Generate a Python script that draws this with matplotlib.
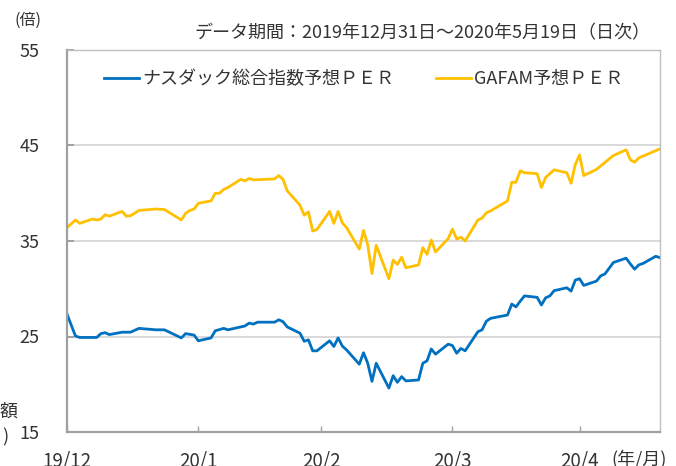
import matplotlib
matplotlib.use("Agg")
import matplotlib.pyplot as plt
import pandas as pd

plt.rcParams["font.family"] = ["Noto Sans CJK JP", "DejaVu Sans"]

BLUE = "#0070C0"
YELLOW = "#FFC000"

# ナスダック総合指数予想PER (vertices)
nasdaq_dates = [
    "2019-12-31", "2020-01-02", "2020-01-03", "2020-01-07", "2020-01-08", "2020-01-09",
    "2020-01-10", "2020-01-13", "2020-01-15", "2020-01-17", "2020-01-21", "2020-01-23",
    "2020-01-27", "2020-01-28", "2020-01-30", "2020-01-31", "2020-02-03", "2020-02-04",
    "2020-02-06", "2020-02-07", "2020-02-10", "2020-02-11", "2020-02-12", "2020-02-13",
    "2020-02-14", "2020-02-18", "2020-02-19", "2020-02-20", "2020-02-21", "2020-02-24",
    "2020-02-25", "2020-02-26", "2020-02-27", "2020-02-28", "2020-03-02", "2020-03-03",
    "2020-03-04", "2020-03-05", "2020-03-06", "2020-03-09", "2020-03-10", "2020-03-11",
    "2020-03-12", "2020-03-13", "2020-03-16", "2020-03-17", "2020-03-18", "2020-03-19",
    "2020-03-20", "2020-03-23", "2020-03-24", "2020-03-25", "2020-03-26", "2020-03-27",
    "2020-03-30", "2020-03-31", "2020-04-01", "2020-04-02", "2020-04-03", "2020-04-06",
    "2020-04-07", "2020-04-08", "2020-04-09", "2020-04-13", "2020-04-14", "2020-04-15",
    "2020-04-16", "2020-04-17", "2020-04-20", "2020-04-21", "2020-04-22", "2020-04-23",
    "2020-04-24", "2020-04-27", "2020-04-28", "2020-04-29", "2020-04-30", "2020-05-01",
    "2020-05-04", "2020-05-05", "2020-05-06", "2020-05-08", "2020-05-11", "2020-05-12",
    "2020-05-13", "2020-05-14", "2020-05-15", "2020-05-18", "2020-05-19",
]
nasdaq_per = [
    27.35, 25.05, 24.9, 24.9, 25.3, 25.4,
    25.2, 25.45, 25.45, 25.85, 25.7, 25.7,
    24.85, 25.3, 25.15, 24.55, 24.85, 25.6,
    25.85, 25.7, 26.0, 26.1, 26.4, 26.3,
    26.5, 26.5, 26.75, 26.55, 26.0, 25.35,
    24.5, 24.65, 23.5, 23.5, 24.55, 23.95,
    24.85, 24.0, 23.6, 22.1, 23.3, 22.2,
    20.3, 22.2, 19.6, 20.9, 20.2, 20.8,
    20.35, 20.45, 22.2, 22.45, 23.7, 23.15,
    24.2, 24.05, 23.25, 23.75, 23.5, 25.5,
    25.7, 26.6, 26.9, 27.25, 28.4, 28.1,
    28.7, 29.25, 29.1, 28.3, 29.05, 29.25,
    29.8, 30.1, 29.75, 30.9, 31.05, 30.35,
    30.8, 31.35, 31.55, 32.75, 33.2, 32.6,
    32.05, 32.5, 32.65, 33.4, 33.25,
]

# GAFAM予想PER
gafam_dates = [
    "2019-12-31", "2020-01-02", "2020-01-03", "2020-01-06", "2020-01-07", "2020-01-08",
    "2020-01-09", "2020-01-10", "2020-01-13", "2020-01-14", "2020-01-15", "2020-01-17",
    "2020-01-21", "2020-01-23", "2020-01-27", "2020-01-28", "2020-01-29", "2020-01-30",
    "2020-01-31", "2020-02-03", "2020-02-04", "2020-02-05", "2020-02-06", "2020-02-07",
    "2020-02-10", "2020-02-11", "2020-02-12", "2020-02-13", "2020-02-18", "2020-02-19",
    "2020-02-20", "2020-02-21", "2020-02-24", "2020-02-25", "2020-02-26", "2020-02-27",
    "2020-02-28", "2020-03-02", "2020-03-03", "2020-03-04", "2020-03-05", "2020-03-06",
    "2020-03-09", "2020-03-10", "2020-03-11", "2020-03-12", "2020-03-13", "2020-03-16",
    "2020-03-17", "2020-03-18", "2020-03-19", "2020-03-20", "2020-03-23", "2020-03-24",
    "2020-03-25", "2020-03-26", "2020-03-27", "2020-03-30", "2020-03-31", "2020-04-01",
    "2020-04-02", "2020-04-03", "2020-04-06", "2020-04-07", "2020-04-08", "2020-04-09",
    "2020-04-13", "2020-04-14", "2020-04-15", "2020-04-16", "2020-04-17", "2020-04-20",
    "2020-04-21", "2020-04-22", "2020-04-24", "2020-04-27", "2020-04-28", "2020-04-29",
    "2020-04-30", "2020-05-01", "2020-05-04", "2020-05-08", "2020-05-11", "2020-05-12",
    "2020-05-13", "2020-05-14", "2020-05-19",
]
gafam_per = [
    36.4, 37.2, 36.85, 37.3, 37.2, 37.3,
    37.75, 37.6, 38.1, 37.6, 37.65, 38.2,
    38.35, 38.3, 37.2, 37.9, 38.2, 38.35,
    38.95, 39.2, 40.0, 40.0, 40.4, 40.6,
    41.45, 41.3, 41.55, 41.4, 41.5, 41.85,
    41.45, 40.25, 38.75, 37.7, 38.05, 36.05,
    36.2, 38.1, 36.85, 38.1, 36.9, 36.4,
    34.15, 36.1, 34.6, 31.6, 34.55, 31.05,
    33.0, 32.55, 33.3, 32.2, 32.5, 34.3,
    33.6, 35.1, 33.85, 35.25, 36.25, 35.2,
    35.4, 35.0, 37.2, 37.4, 37.95, 38.15,
    39.2, 41.15, 41.15, 42.35, 42.15, 42.05,
    40.6, 41.65, 42.45, 42.15, 41.05, 43.0,
    44.0, 41.85, 42.5, 43.95, 44.55, 43.5,
    43.25, 43.7, 44.65,
]

tick_dates = ["2019-12-31", "2020-01-31", "2020-02-29", "2020-03-31", "2020-04-30"]
tick_labels = ["19/12", "20/1", "20/2", "20/3", "20/4"]
y_ticks = [15, 25, 35, 45, 55]


def main() -> None:
    fig = plt.figure(figsize=(6.76, 4.66), dpi=100)
    ax = fig.add_axes([67 / 676, 1 - 432 / 466, 593 / 676, 382 / 466])

    ax.plot(pd.to_datetime(nasdaq_dates), nasdaq_per, color=BLUE, linewidth=2.0,
            label="ナスダック総合指数予想ＰＥＲ")
    ax.plot(pd.to_datetime(gafam_dates), gafam_per, color=YELLOW, linewidth=2.0,
            label="GAFAM予想ＰＥＲ")

    ax.set_xlim(pd.Timestamp("2019-12-31"), pd.Timestamp("2020-05-19"))
    ax.set_ylim(15, 55)
    ax.set_yticks(y_ticks)
    ax.set_xticks(pd.to_datetime(tick_dates))
    ax.set_xticklabels(tick_labels)

    ax.grid(axis="y", color="#D9D9D9", linewidth=1.4)
    ax.set_axisbelow(True)

    for side in ("top", "right"):
        ax.spines[side].set_color("#BFBFBF")
        ax.spines[side].set_linewidth(1.0)
    for side in ("left", "bottom"):
        ax.spines[side].set_color("#A0A0A0")
        ax.spines[side].set_linewidth(1.6)

    ax.tick_params(axis="y", direction="in", length=5, width=1.4, color="#A0A0A0",
                   labelsize=13, pad=20, labelcolor="#333333")
    ax.tick_params(axis="x", direction="in", length=4, width=1.0, color="#A0A0A0",
                   labelsize=13.5, pad=14, labelcolor="#333333")

    ax.legend(loc="upper center", bbox_to_anchor=(0.5, 0.995), ncol=2, frameon=False,
              fontsize=13, handlelength=1.95, handletextpad=0.15, columnspacing=2.3,
              borderaxespad=0.6, labelcolor="#333333")

    fig.text(651 / 676, 1 - 33 / 466, "データ期間：2019年12月31日～2020年5月19日（日次）",
             ha="right", va="center", fontsize=13, color="#333333")
    fig.text(15 / 676, 1 - 20 / 466, "(倍)", ha="left", va="center", fontsize=11.5,
             color="#333333")
    fig.text(667 / 676, 1 - 459 / 466, "(年/月)", ha="right", va="center", fontsize=13,
             color="#333333")
    fig.text(0 / 676, 1 - 412 / 466, "額", ha="left", va="center", fontsize=13,
             color="#333333")
    fig.text(2 / 676, 1 - 437 / 466, ")", ha="left", va="center", fontsize=13,
             color="#333333")

    fig.savefig("out.png", dpi=100)
    plt.close(fig)


if __name__ == "__main__":
    main()
